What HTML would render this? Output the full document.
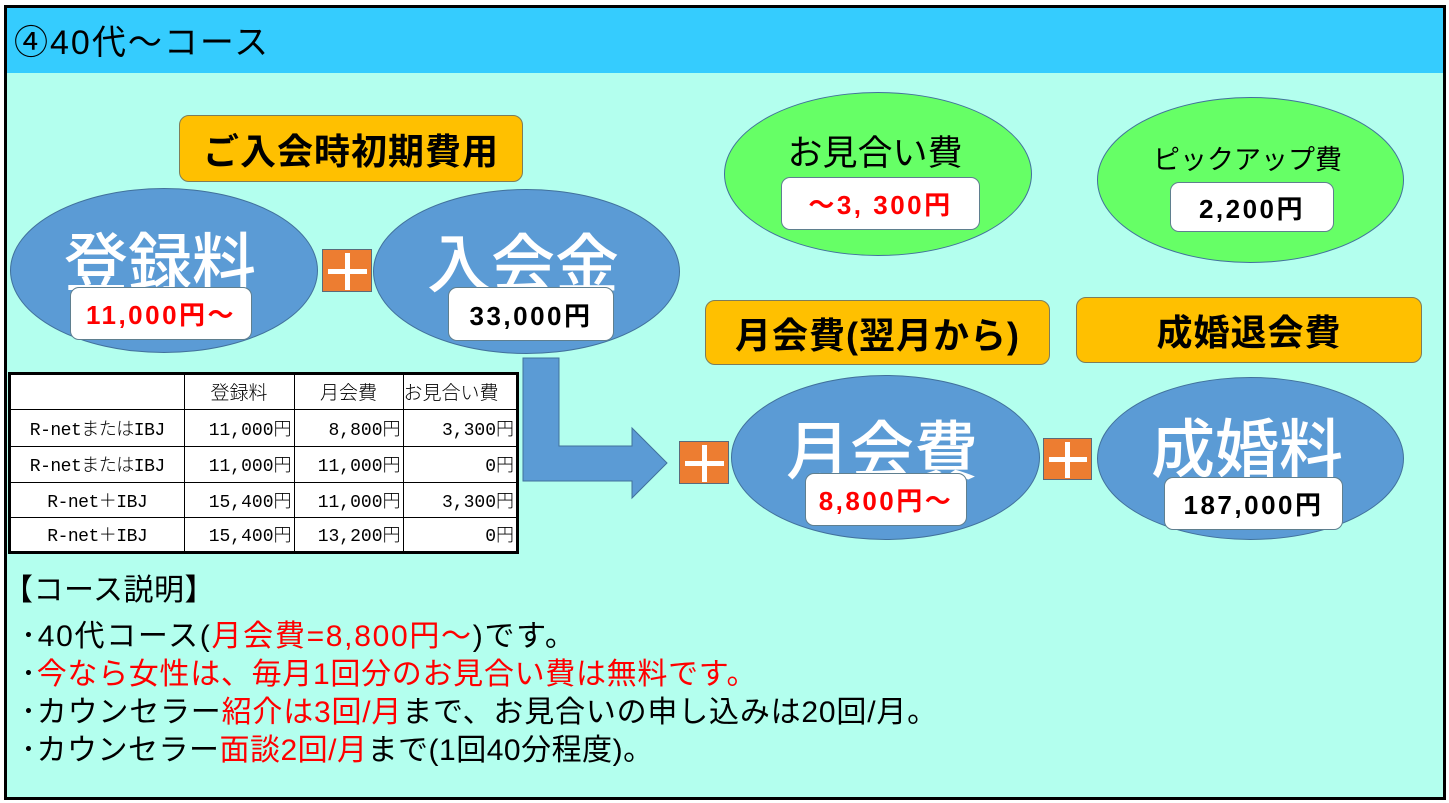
<!DOCTYPE html>
<html><head><meta charset="utf-8">
<style>
*{margin:0;padding:0;box-sizing:border-box}
html,body{width:1449px;height:803px;background:#fff;overflow:hidden;position:relative}
body{font-family:"Liberation Sans","Noto Sans CJK JP",sans-serif}
.a{position:absolute}
.frame{left:4px;top:5px;width:1442px;height:795px;background:#B3FFEE;border:3px solid #000}
.hdr{left:7px;top:8px;width:1436px;height:65px;background:#35CCFE}
.title{left:14px;top:23px;height:40px;line-height:40px;font-size:34px;letter-spacing:2px;color:#000;white-space:nowrap}
.ell{border-radius:50%;border:1px solid #41719C}
.blue{background:#5B9BD5}
.green{background:#66FF66}
.big{color:#fff;font-size:64px;font-weight:500;line-height:64px;height:64px;text-align:center;white-space:nowrap}
.wb{background:#fff;border:1px solid #5f7f8f;border-radius:9px;display:flex;align-items:center;justify-content:center;font-weight:bold;font-size:26px;letter-spacing:2.5px;white-space:nowrap}
.ob{background:#FFC000;border:1px solid #7d7d5a;border-radius:10px;display:flex;align-items:center;justify-content:center;font-weight:bold;font-size:36px;letter-spacing:1px;white-space:nowrap;color:#000}
.plus{background:#ED7D31;border:1px solid #5a6a7a}
.plus i{position:absolute;background:#fff;display:block}
.red{color:#FF0000}
.desc{left:21px;height:40px;line-height:40px;font-size:30px;letter-spacing:0.5px;white-space:nowrap;color:#000}
.tbl{left:8px;top:372px;width:511px;height:182px;border:3px solid #000;background:#fff}
table{border-collapse:collapse;table-layout:fixed;width:505px;height:176px;font-family:"Liberation Mono","Noto Sans CJK JP",monospace;font-size:18px;font-weight:300;color:#000}
td{border:1px solid #000;white-space:nowrap;overflow:hidden;padding:0 2px}
tr:first-child td{border-top:none}
tr:last-child td{border-bottom:none}
td:first-child{border-left:none}
td:last-child{border-right:none}
td.c{text-align:center;font-size:19px}
td.r{text-align:right}
td.l{letter-spacing:-0.5px;text-align:center}
</style></head><body>
<div class="a frame"></div>
<div class="a hdr"></div>
<div class="a title">④40代～コース</div>

<!-- initial cost -->
<div class="a ob" style="left:179px;top:115px;width:344px;height:67px;">ご入会時初期費用</div>

<div class="a ell blue" style="left:10px;top:188px;width:308px;height:165px;"></div>
<div class="a big" style="left:64px;top:232px;width:192px;">登録料</div>
<div class="a wb red" style="left:70px;top:287px;width:182px;height:53px;">11,000円～</div>

<div class="a plus" style="left:322px;top:249px;width:50px;height:43px;"><i style="left:5px;top:19px;width:39px;height:5px"></i><i style="left:22px;top:3px;width:5px;height:37px"></i></div>

<div class="a ell blue" style="left:373px;top:189px;width:307px;height:165px;"></div>
<div class="a big" style="left:427px;top:233px;width:192px;">入会金</div>
<div class="a wb" style="left:448px;top:287px;width:166px;height:54px;">33,000円</div>

<!-- arrow -->
<svg class="a" style="left:0;top:0" width="1449" height="803">
<polygon points="523,358 559,358 559,446 632,446 632,428 667,463 632,498 632,481 523,481" fill="#5B9BD5" stroke="#41719C" stroke-width="1"/>
</svg>

<!-- table -->
<div class="a tbl">
<table>
<colgroup><col style="width:173px"><col style="width:110px"><col style="width:109px"><col style="width:113px"></colgroup>
<tr style="height:34px"><td></td><td class="c">登録料</td><td class="c">月会費</td><td style="padding:0;font-size:19px;overflow:visible">お見合い費</td></tr>
<tr style="height:37px"><td class="l">R-netまたはIBJ</td><td class="r">11,000円</td><td class="r">8,800円</td><td class="r">3,300円</td></tr>
<tr style="height:36px"><td class="l">R-netまたはIBJ</td><td class="r">11,000円</td><td class="r">11,000円</td><td class="r">0円</td></tr>
<tr style="height:35px"><td class="l">R-net＋IBJ</td><td class="r">15,400円</td><td class="r">11,000円</td><td class="r">3,300円</td></tr>
<tr style="height:34px"><td class="l">R-net＋IBJ</td><td class="r">15,400円</td><td class="r">13,200円</td><td class="r">0円</td></tr>
</table>
</div>

<!-- right side top -->
<div class="a ell green" style="left:724px;top:92px;width:308px;height:164px;"></div>
<div class="a" style="left:724px;top:134px;width:308px;height:40px;line-height:40px;font-size:35px;text-align:center;white-space:nowrap;padding-right:6px">お見合い費</div>
<div class="a wb red" style="left:781px;top:177px;width:199px;height:53px;">～3, 300円</div>

<div class="a ell green" style="left:1097px;top:97px;width:307px;height:166px;"></div>
<div class="a" style="left:1097px;top:143px;width:307px;height:34px;line-height:34px;font-size:27px;text-align:center;white-space:nowrap;padding-right:6px">ピックアップ費</div>
<div class="a wb" style="left:1170px;top:182px;width:164px;height:50px;">2,200円</div>

<div class="a ob" style="left:705px;top:300px;width:345px;height:65px;">月会費(翌月から)</div>
<div class="a ob" style="left:1076px;top:297px;width:346px;height:66px;">成婚退会費</div>

<div class="a plus" style="left:679px;top:441px;width:50px;height:43px;"><i style="left:5px;top:19px;width:39px;height:5px"></i><i style="left:22px;top:3px;width:5px;height:37px"></i></div>

<div class="a ell blue" style="left:731px;top:375px;width:309px;height:165px;"></div>
<div class="a big" style="left:786px;top:420px;width:192px;">月会費</div>
<div class="a wb red" style="left:805px;top:473px;width:162px;height:53px;">8,800円～</div>

<div class="a plus" style="left:1043px;top:438px;width:49px;height:42px;"><i style="left:5px;top:18px;width:38px;height:5px"></i><i style="left:21px;top:3px;width:5px;height:36px"></i></div>

<div class="a ell blue" style="left:1097px;top:377px;width:307px;height:163px;"></div>
<div class="a big" style="left:1151px;top:418px;width:192px;">成婚料</div>
<div class="a wb" style="left:1164px;top:477px;width:179px;height:53px;">187,000円</div>

<!-- description -->
<div class="a desc" style="left:3px;top:571px;">【コース説明】</div>
<div class="a desc" style="top:617px;letter-spacing:1.7px;">･40代コース(<span class="red">月会費=8,800円～</span>)です。</div>
<div class="a desc" style="top:655px;letter-spacing:0.7px;">･<span class="red">今なら女性は、毎月1回分のお見合い費は無料です。</span></div>
<div class="a desc" style="top:693px;letter-spacing:0.8px;">･カウンセラー<span class="red">紹介は3回/月</span>まで、お見合いの申し込みは20回/月。</div>
<div class="a desc" style="top:731px;">･カウンセラー<span class="red">面談2回/月</span>まで(1回40分程度)。</div>
</body></html>
